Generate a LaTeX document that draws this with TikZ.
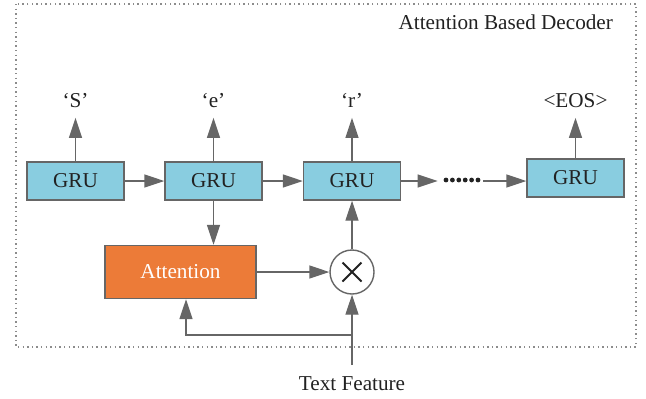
\documentclass[tikz,border=0pt]{standalone}
\usepackage{fontspec}
\setmainfont{Liberation Serif}
\usetikzlibrary{arrows.meta,positioning}

\definecolor{grublue}{HTML}{89CDE0}
\definecolor{attorange}{HTML}{EC7B38}
\definecolor{linegray}{HTML}{666666}
\definecolor{dotgray}{HTML}{8C8C8C}
\definecolor{txtdark}{HTML}{222222}

\tikzset{
  gru/.style={draw=linegray,line width=0.7pt,fill=grublue,
    minimum width=48.5pt,minimum height=19pt,inner sep=0pt,text=txtdark},
  attbox/.style={draw=linegray,line width=0.7pt,fill=attorange,
    minimum width=75.5pt,minimum height=26.5pt,inner sep=0pt,text=white},
  mulnode/.style={circle,draw=linegray,line width=0.7pt,fill=white,
    minimum size=22pt,inner sep=0pt},
  outlbl/.style={inner xsep=1pt,inner ysep=5pt,text height=7.5pt,
    text depth=0pt,text=txtdark},
  flow/.style={draw=linegray,line width=0.7pt,
    -{Triangle[length=10pt,width=6.5pt]}},
}

\begin{document}
\begin{tikzpicture}[x=0.5pt,y=-0.5pt,font=\fontsize{10.6}{13}\selectfont]

\useasboundingbox (0,0) rectangle (646,398);

%=================================================
% DECODER FRAME
%=================================================

\draw[dotgray,line width=0.7pt,dash pattern=on 0.7pt off 1.6pt]
(16,4) rectangle (636,347);

\node[anchor=east,text=txtdark] (title)
at (620,22)
{Attention Based Decoder};

%=================================================
% GRU CHAIN
%=================================================

\node[gru] (gru1) at (75.5,181) {GRU};
\node[gru] (gru2) at (213.5,181) {GRU};
\node[gru] (gru3) at (352,181) {GRU};
\node[gru] (gru4) at (575.5,178) {GRU};

% dots between the last two cells
\node[minimum width=22.5pt,minimum height=4pt,inner sep=0pt] (dots)
at (460.5,181) {};

\foreach \x in {446,452.4,458.8,465.2,471.6,478}
{
\fill[txtdark]
(\x,180) circle (1.2pt);
}

\draw[flow] (gru1) -- (gru2);
\draw[flow] (gru2) -- (gru3);
\draw[flow] (gru3) -- (dots);
\draw[flow] (dots.east) -- (gru4.west |- dots.east);

%  outputs

\node[outlbl] (out1) at (75.5,100) {‘S’};
\node[outlbl] (out2) at (213.5,100) {‘e’};
\node[outlbl] (out3) at (352,100) {‘r’};
\node[outlbl] (out4) at (575.5,100) {<EOS>};

\draw[flow] (gru1) -- (out1);
\draw[flow] (gru2) -- (out2);
\draw[flow] (gru3) -- (out3);
\draw[flow] (gru4) -- (out4);

%=================================================
% ATTENTION
%=================================================

\node[attbox] (att) at (180.5,272) {Attention};

\node[mulnode] (mul) at (352,272) {};

\draw[txtdark,line width=0.9pt]
([shift={(-9.5,-9.5)}]mul.center) -- ([shift={(9.5,9.5)}]mul.center)
([shift={(-9.5,9.5)}]mul.center) -- ([shift={(9.5,-9.5)}]mul.center);

\draw[flow] (gru2.south) -- (gru2.south |- att.north);
\draw[flow] (att) -- (mul);
\draw[flow] (mul) -- (gru3);

%  text feature input

\node[outlbl] (feat) at (352,383) {Text Feature};

\coordinate (split) at (352,335);
\coordinate (tap) at (186,335);

\draw[flow] (feat) -- (mul);
\draw[flow] (split) -- (tap) -- (tap |- att.south);

\end{tikzpicture}
\end{document}
